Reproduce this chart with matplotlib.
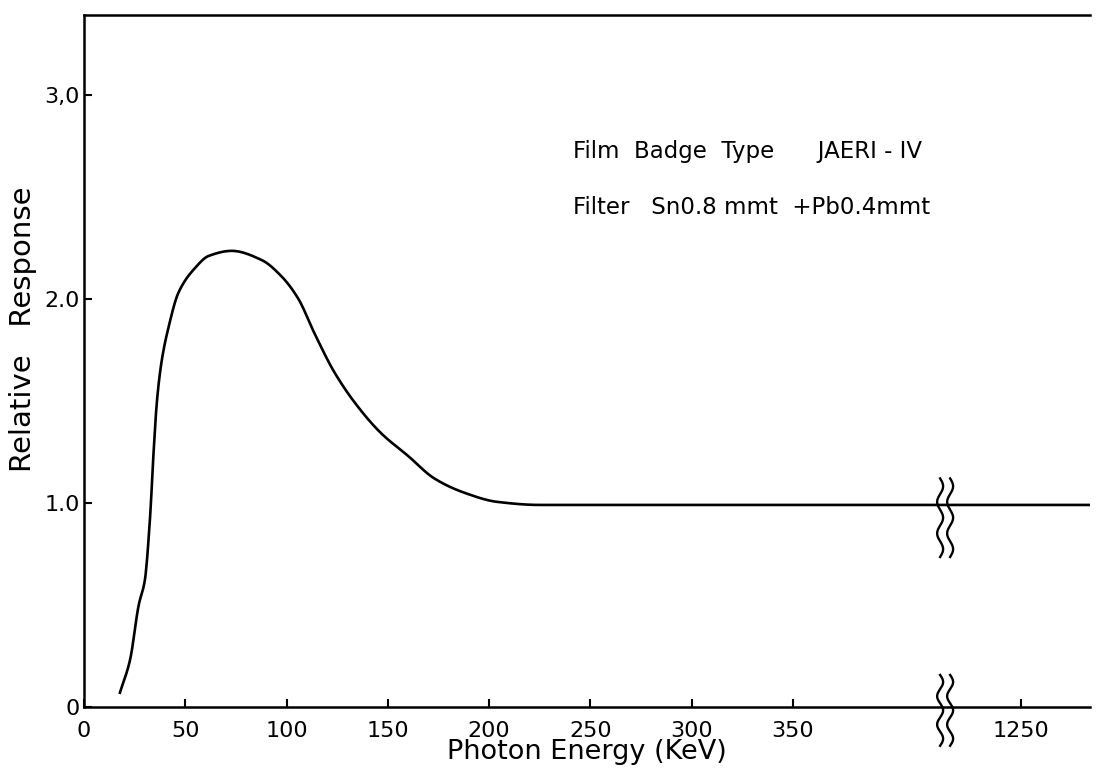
import numpy as np
import matplotlib
matplotlib.use("Agg")
import matplotlib.pyplot as plt
from matplotlib.transforms import blended_transform_factory

# relative response of the film badge vs photon energy (keV)
energy = [17.7, 22.7, 27.0, 30.0, 32.6, 34.4, 36.0, 38.4, 41.7, 46.6, 54.7, 61.5,
          72.9, 87.7, 97.5, 105.8, 113.8, 123.6, 135.3, 146.8, 160.0, 172.9, 187.7,
          204.0, 225.0, 300.0, 400.0, 1250.0, 1290.0]
response = [0.07, 0.23, 0.50, 0.62, 0.93, 1.26, 1.50, 1.70, 1.86, 2.03, 2.15, 2.21,
            2.235, 2.19, 2.11, 2.0, 1.83, 1.64, 1.47, 1.34, 1.23, 1.12, 1.05,
            1.005, 0.99, 0.99, 0.99, 0.99, 0.99]

xticks = [0, 50, 100, 150, 200, 250, 300, 350, 1250]
yticks = [0, 1, 2, 3]
ytick_labels = ["0", "1.0", "2.0", "3,0"]

# broken x axis: 0-425 linear, then jump to the 1250 region
brk_real = [0, 425, 1213, 1300]
brk_disp = [0, 425, 425.6, 512.6]


def fwd(x):
    return np.interp(x, brk_real, brk_disp)


def inv(x):
    return np.interp(x, brk_disp, brk_real)


def pchip(x, y, xn):
    # monotone cubic (Fritsch-Carlson) through the read-off points
    x = np.asarray(x, float)
    y = np.asarray(y, float)
    h = np.diff(x)
    d = np.diff(y) / h
    m = np.zeros_like(y)
    for i in range(1, len(x) - 1):
        if d[i - 1] * d[i] > 0:
            w1 = 2 * h[i] + h[i - 1]
            w2 = h[i] + 2 * h[i - 1]
            m[i] = (w1 + w2) / (w1 / d[i - 1] + w2 / d[i])
    m[0] = d[0]
    m[-1] = d[-1]
    idx = np.clip(np.searchsorted(x, xn) - 1, 0, len(x) - 2)
    t = (xn - x[idx]) / h[idx]
    h00 = 2 * t**3 - 3 * t**2 + 1
    h10 = t**3 - 2 * t**2 + t
    h01 = -2 * t**3 + 3 * t**2
    h11 = t**3 - t**2
    return h00 * y[idx] + h10 * h[idx] * m[idx] + h01 * y[idx + 1] + h11 * h[idx] * m[idx + 1]


plt.rcParams["font.family"] = ["DejaVu Sans"]

fig = plt.figure(figsize=(10.97, 7.80), dpi=100)
ax = fig.add_axes([0.0766, 0.0936, 0.917, 0.887])

ee = np.linspace(energy[0], energy[-1], 4000)
ax.plot(ee, pchip(energy, response, ee), color="black", lw=1.9)

ax.set_xscale("function", functions=(fwd, inv))
ax.set_xlim(0, 1284)
ax.set_ylim(0, 3.39)

ax.set_xticks(xticks)
ax.set_xticklabels([str(t) for t in xticks])
ax.set_yticks(yticks)
ax.set_yticklabels(ytick_labels)
ax.tick_params(direction="in", length=6, width=1.5, labelsize=16, color="black")
ax.tick_params(axis="x", pad=10)
ax.tick_params(axis="y", pad=3)

ax.spines["right"].set_visible(False)
for s in ["left", "bottom", "top"]:
    ax.spines[s].set_linewidth(1.8)

ax.set_xlabel("Photon Energy (KeV)", fontsize=19.5, labelpad=-1)
fig.text(0.021, 0.578, "Relative   Response", rotation=90, fontsize=21,
         ha="center", va="center")

ax.text(0.486, 0.803, "Film  Badge  Type      JAERI - IV", transform=ax.transAxes,
        fontsize=16.5, va="center", ha="left")
ax.text(0.486, 0.722, "Filter   Sn0.8 mmt  +Pb0.4mmt", transform=ax.transAxes,
        fontsize=16.5, va="center", ha="left")

# break marks (double wavy lines)
tr = blended_transform_factory(ax.transAxes, ax.transData)
axw = 1006.0


def squiggle(xc, y0, y1):
    t = np.linspace(0, 1, 200)
    y = y0 + (y1 - y0) * t
    for dx in (-5, 5):
        x = xc + (dx + 3.0 * np.sin(2 * np.pi * 2.5 * t)) / axw
        ax.plot(x, y, color="black", lw=1.7, transform=tr, clip_on=False)


squiggle(0.856, 0.735, 1.12)
squiggle(0.856, -0.19, 0.157)

fig.savefig("out.png", dpi=100)
